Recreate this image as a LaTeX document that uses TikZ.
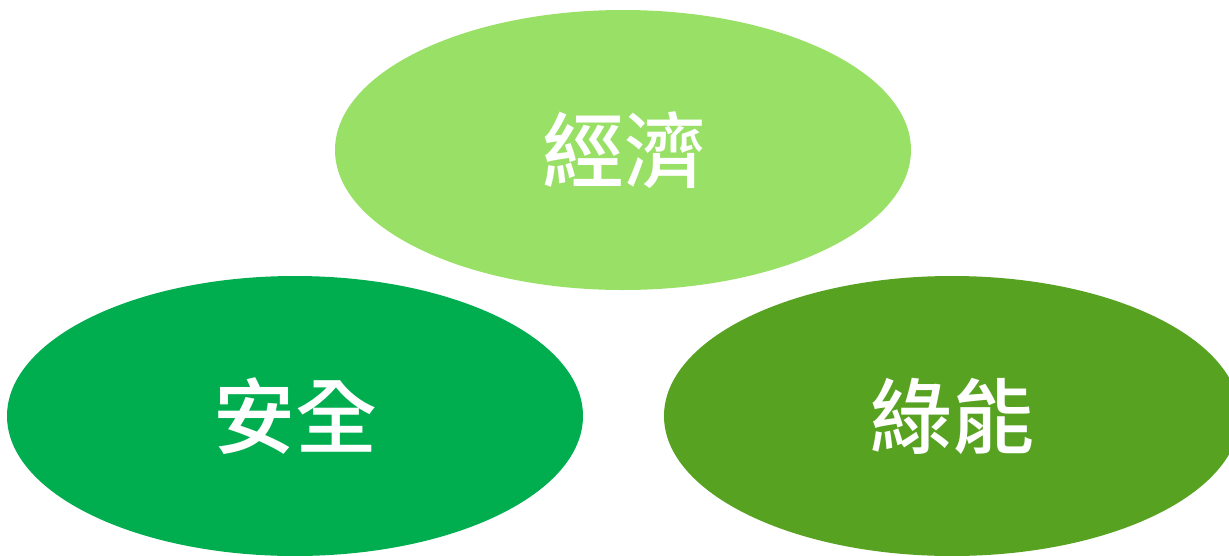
\documentclass[tikz,border=0pt]{standalone}
\usepackage{fontspec}
\newfontfamily\cjk{Noto Sans CJK TC Medium}
\definecolor{topgreen}{HTML}{99E066}
\definecolor{leftgreen}{HTML}{00AE50}
\definecolor{rightgreen}{HTML}{58A222}
\begin{document}
\begin{tikzpicture}[x=1pt,y=-1pt,
  lbl/.style={text=white, font=\cjk\fontsize{82}{82}\selectfont}]
\useasboundingbox (0,0) rectangle (1229,555);
\begin{scope}
\clip (0,0) rectangle (1229,555);
\fill[topgreen] (623,150) ellipse [x radius=288, y radius=140];
\fill[leftgreen] (295,416) ellipse [x radius=288, y radius=140];
\fill[rightgreen] (952,416) ellipse [x radius=288, y radius=140];
\end{scope}
\node[lbl] (econ) at (624,150) {經濟};
\node[lbl] (safe) at (295,416) {安全};
\node[lbl] (green) at (952,416) {綠能};
\end{tikzpicture}
\end{document}
